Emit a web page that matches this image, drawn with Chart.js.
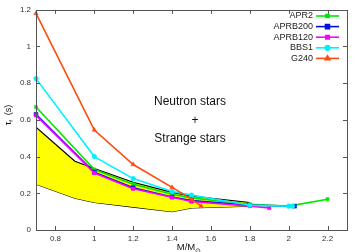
<!DOCTYPE html>
<html>
<head>
<meta charset="utf-8">
<script src="https://cdn.jsdelivr.net/npm/chart.js@4/dist/chart.umd.min.js"></script>
<style>
  html, body { margin: 0; padding: 0; background: #fff; }
  #wrap { width: 359px; height: 252px; }
</style>
</head>
<body>
<div id="wrap"><canvas id="myChart"></canvas></div>
<script>
// masses (M/Msun) and damping times tau_f (s)
const massApr2 = [0.7, 1.0, 1.2, 1.4, 1.5, 1.8, 2.0, 2.2];
const tauApr2 = [0.67, 0.33, 0.25, 0.195, 0.175, 0.14, 0.13, 0.168];

const massAprb200 = [0.7, 1.0, 1.2, 1.4, 1.5, 1.8, 2.03];
const tauAprb200 = [0.63, 0.315, 0.23, 0.18, 0.16, 0.135, 0.13];

const massAprb120 = [0.7, 1.0, 1.2, 1.4, 1.5, 1.8, 1.9];
const tauAprb120 = [0.625, 0.31, 0.225, 0.178, 0.155, 0.13, 0.12];

const massBbs1 = [0.7, 1.0, 1.2, 1.4, 1.5, 1.8, 2.0, 2.02];
const tauBbs1 = [0.825, 0.4, 0.28, 0.21, 0.19, 0.135, 0.13, 0.13];

const massG240 = [0.7, 1.0, 1.2, 1.4, 1.5, 1.55];
const tauG240 = [1.18, 0.545, 0.357, 0.232, 0.168, 0.13];

// strange star band
const massBand = [0.7, 0.9, 1.0, 1.2, 1.4, 1.5, 1.8];
const tauBandUpper = [0.56, 0.375, 0.335, 0.26, 0.205, 0.185, 0.15];
const tauBandLower = [0.25, 0.173, 0.15, 0.125, 0.1, 0.12, 0.13];

const xTicks = [0.8, 1, 1.2, 1.4, 1.6, 1.8, 2, 2.2];
const yTicks = [0, 0.2, 0.4, 0.6, 0.8, 1, 1.2];

const pts = (xs, ys) => xs.map((x, i) => ({ x: x, y: ys[i] }));

const series = [
	{ label: "APR2", color: "#00e600", style: "rect", r: 2.2 },
	{ label: "APRB200", color: "#0010e0", style: "rect", r: 2.8 },
	{ label: "APRB120", color: "#ff00ff", style: "rect", r: 2.4 },
	{ label: "BBS1", color: "#00f0ff", style: "circle", r: 2.3 },
	{ label: "G240", color: "#ff4a10", style: "triangle", r: 2.6 },
];

function lineSet(s, data) {
	return {
		label: s.label,
		data: data,
		borderColor: s.color,
		backgroundColor: s.color,
		pointBackgroundColor: s.color,
		pointBorderColor: s.color,
		pointBorderWidth: 0.5,
		pointStyle: s.style,
		pointRadius: s.r,
		borderWidth: 1.6,
		fill: false,
		clip: false,
	};
}

const FONT = "'Liberation Sans', Arial, sans-serif";

const decorations = {
	id: "decorations",
	afterDraw(chart) {
		const c = chart.ctx;
		const a = chart.chartArea;
		const xs = chart.scales.x;
		const ys = chart.scales.y;
		c.save();
		// frame
		c.strokeStyle = "#555";
		c.lineWidth = 1;
		c.strokeRect(Math.round(a.left) + 0.5, Math.round(a.top) + 0.5,
			Math.round(a.right - a.left), Math.round(a.bottom - a.top));
		// inward ticks, mirrored
		const tl = 4;
		c.beginPath();
		xTicks.forEach(v => {
			const px = Math.round(xs.getPixelForValue(v)) + 0.5;
			c.moveTo(px, a.bottom); c.lineTo(px, a.bottom - tl);
			c.moveTo(px, a.top); c.lineTo(px, a.top + tl);
		});
		yTicks.forEach(v => {
			const py = Math.round(ys.getPixelForValue(v)) + 0.5;
			c.moveTo(a.left, py); c.lineTo(a.left + tl, py);
			c.moveTo(a.right, py); c.lineTo(a.right - tl, py);
		});
		c.stroke();

		// legend
		c.font = "9px " + FONT;
		c.textBaseline = "middle";
		c.textAlign = "right";
		series.forEach((s, i) => {
			const y = 16 + i * 10.6;
			c.fillStyle = "#222";
			c.fillText(s.label, 313, y);
			c.strokeStyle = s.color;
			c.lineWidth = 1.6;
			c.beginPath(); c.moveTo(316, y); c.lineTo(339, y); c.stroke();
			c.fillStyle = s.color;
			Chart.helpers.drawPoint(c, { pointStyle: s.style, radius: s.r, borderWidth: 0.5 }, 327.5, y);
		});

		// annotation
		c.fillStyle = "#111";
		c.textAlign = "center";
		c.font = "12px " + FONT;
		c.fillText("Neutron stars", 190, 102);
		c.fillText("+", 195, 121);
		c.fillText("Strange stars", 190, 139);

		// x title M/M_sun
		c.font = "9.5px " + FONT;
		c.textAlign = "left";
		c.textBaseline = "alphabetic";
		const main = "M/M";
		const w = c.measureText(main).width;
		const x0 = 188 - (w + 4) / 2;
		c.fillText(main, x0, 250);
		c.font = "7px " + FONT;
		c.fillText("\u2299", x0 + w, 253);

		// y title tau_f (s)
		c.translate(9, 115);
		c.rotate(-Math.PI / 2);
		c.textBaseline = "middle";
		c.font = "9px " + FONT;
		const t1 = "\u03c4";
		const tw = c.measureText(t1).width;
		const total = tw + 4 + c.measureText(" (s)").width;
		let xx = -total / 2;
		c.fillText(t1, xx, 0);
		c.font = "6px " + FONT;
		c.fillText("f", xx + tw, 2.5);
		c.font = "9px " + FONT;
		c.fillText(" (s)", xx + tw + 4, 0);
		c.restore();
	},
};

const ctx = document.getElementById("myChart");

new Chart(ctx, {
	type: "line",
	data: {
		datasets: [
			lineSet(series[4], pts(massG240, tauG240)),
			lineSet(series[3], pts(massBbs1, tauBbs1)),
			lineSet(series[2], pts(massAprb120, tauAprb120)),
			lineSet(series[1], pts(massAprb200, tauAprb200)),
			lineSet(series[0], pts(massApr2, tauApr2)),
			{
				label: "band upper",
				data: pts(massBand, tauBandUpper),
				borderColor: "#000",
				borderWidth: 1.2,
				pointRadius: 0,
				backgroundColor: "#ffff00",
				fill: 6,
			},
			{
				label: "band lower",
				data: pts(massBand, tauBandLower),
				borderColor: "#000",
				borderWidth: 1.2,
				pointRadius: 0,
				fill: false,
			},
		],
	},
	options: {
		responsive: true,
		maintainAspectRatio: false,
		animation: false,
		layout: { padding: { left: 0, right: 12, top: 8, bottom: 0 } },
		plugins: {
			legend: { display: false },
			tooltip: { enabled: false },
		},
		scales: {
			x: {
				type: "linear",
				min: 0.7,
				max: 2.3,
				afterBuildTicks: (scale) => { scale.ticks = xTicks.map(v => ({ value: v })); },
				afterFit: (scale) => { scale.height = 22; },
				grid: { display: false, drawTicks: false, tickLength: 0 },
				border: { display: false },
				ticks: {
					color: "#333",
					font: { family: FONT, size: 8 },
					padding: 4,
					maxRotation: 0,
					callback: (v) => String(v),
				},
			},
			y: {
				min: 0,
				max: 1.2,
				afterBuildTicks: (scale) => { scale.ticks = yTicks.map(v => ({ value: v })); },
				afterFit: (scale) => { scale.width = 36; },
				grid: { display: false, drawTicks: false, tickLength: 0 },
				border: { display: false },
				ticks: {
					color: "#333",
					font: { family: FONT, size: 8 },
					padding: 5,
					callback: (v) => String(v),
				},
			},
		},
	},
	plugins: [decorations],
});
</script>
</body>
</html>
